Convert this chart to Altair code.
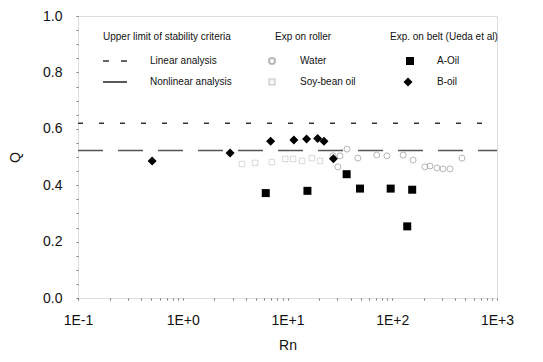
import altair as alt
import pandas as pd

# ---- data ----
b_rn = [0.51, 2.83, 6.9, 11.5, 15.2, 19.4, 22.3, 27.4]
b_q = [0.486, 0.514, 0.556, 0.560, 0.564, 0.566, 0.556, 0.494]

a_rn = [6.2, 15.5, 36.7, 49.2, 96.6, 155, 139]
a_q = [0.372, 0.380, 0.439, 0.388, 0.388, 0.384, 0.254]

water_rn = [27.2, 30.3, 31.7, 37, 47, 71, 89, 127, 158, 205, 229, 267, 305, 356, 463]
water_q = [0.504, 0.465, 0.504, 0.528, 0.496, 0.507, 0.504, 0.507, 0.489, 0.465,
           0.468, 0.461, 0.458, 0.458, 0.496]

soy_rn = [3.68, 4.9, 7.1, 9.5, 11.3, 13.8, 17.1, 20.4]
soy_q = [0.475, 0.479, 0.482, 0.493, 0.493, 0.486, 0.496, 0.486]

line_rn = [0.1, 1000]
linear_q = [0.620, 0.620]
nonlinear_q = [0.523, 0.523]

x_ticks = [m * d for d in [0.1, 1, 10, 100] for m in range(1, 10)] + [1000]
y_ticks = [round(i * 0.05, 2) for i in range(21)]

FONT = "Liberation Sans"

xs = alt.Scale(type="log", domain=[0.1, 1000], nice=False)
ys = alt.Scale(domain=[0, 1], nice=False)

x_enc = alt.X(
    "Rn:Q", scale=xs, title="Rn",
    axis=alt.Axis(
        values=x_ticks,
        labelExpr="abs(log(datum.value)/LN10 - round(log(datum.value)/LN10)) < 1e-6 ? ('1E' + (datum.value >= 1 ? '+' : '-') + abs(round(log(datum.value)/LN10))) : ''",
        domain=False, grid=False, tickSize=2, tickColor="#777",
        labelFont=FONT, labelFontSize=14, labelColor="#111", labelPadding=13,
        labelOverlap=False, labelFlush=False,
        titleFont=FONT, titleFontSize=14, titleFontWeight="normal", titleColor="#111",
        titlePadding=11,
    ),
)
y_enc = alt.Y(
    "Q:Q", scale=ys, title="Q",
    axis=alt.Axis(
        values=y_ticks,
        labelExpr="abs(datum.value*5 - round(datum.value*5)) < 1e-6 ? format(datum.value, '.1f') : ''",
        domain=False, grid=False, tickSize=2, tickColor="#777",
        labelFont=FONT, labelFontSize=14, labelColor="#111", labelPadding=14,
        labelOverlap=False,
        titleFont=FONT, titleFontSize=14, titleFontWeight="normal", titleColor="#111",
        titlePadding=20,
    ),
)

lin_df = pd.DataFrame({"Rn": line_rn, "Q": linear_q})
non_df = pd.DataFrame({"Rn": line_rn, "Q": nonlinear_q})
linear = alt.Chart(lin_df).mark_line(color="#333", strokeWidth=1.5, strokeDash=[5, 16]).encode(
    x=x_enc, y=y_enc)
nonlinear = alt.Chart(non_df).mark_line(color="#555", strokeWidth=1.5, strokeDash=[25, 15]).encode(
    x=x_enc, y=y_enc)

water = alt.Chart(pd.DataFrame({"Rn": water_rn, "Q": water_q})).mark_point(
    shape="circle", filled=False, color="#999", size=36, strokeWidth=1).encode(x=x_enc, y=y_enc)
soy = alt.Chart(pd.DataFrame({"Rn": soy_rn, "Q": soy_q})).mark_point(
    shape="square", filled=False, color="#c8c8c8", size=30, strokeWidth=1).encode(x=x_enc, y=y_enc)
aoil = alt.Chart(pd.DataFrame({"Rn": a_rn, "Q": a_q})).mark_point(
    shape="square", filled=True, color="#000", size=64, opacity=1).encode(x=x_enc, y=y_enc)
boil = alt.Chart(pd.DataFrame({"Rn": b_rn, "Q": b_q})).mark_point(
    shape="diamond", filled=True, color="#000", size=81, opacity=1).encode(x=x_enc, y=y_enc)

# ---- hand-made legend (placed in plot-area pixels) ----
one = pd.DataFrame({"k": [0]})

def txt(s, x, y, size=10):
    return alt.Chart(one).mark_text(text=s, align="left", baseline="middle", font=FONT,
                                    fontSize=size, color="#111").encode(
        x=alt.value(x), y=alt.value(y))

legend = [
    txt("Upper limit of stability criteria", 25, 21),
    txt("Exp  on roller", 197, 21),
    txt("Exp. on belt (Ueda et al)", 312, 21),
    txt("Linear analysis", 72, 45),
    txt("Nonlinear analysis", 72, 66),
    txt("Water", 222, 45),
    txt("Soy-bean oil", 222, 66),
    txt("A-Oil", 359, 45),
    txt("B-oil", 359, 66),
    alt.Chart(one).mark_rule(color="#333", strokeWidth=1.5, strokeDash=[6, 12]).encode(
        x=alt.value(25), x2=alt.value(49), y=alt.value(45)),
    alt.Chart(one).mark_rule(color="#222", strokeWidth=1.5).encode(
        x=alt.value(25), x2=alt.value(49), y=alt.value(66)),
    alt.Chart(one).mark_point(shape="circle", filled=False, color="#999", size=36).encode(
        x=alt.value(194), y=alt.value(45)),
    alt.Chart(one).mark_point(shape="square", filled=False, color="#c8c8c8", size=30).encode(
        x=alt.value(194), y=alt.value(66)),
    alt.Chart(one).mark_point(shape="square", filled=True, color="#000", size=64, opacity=1).encode(
        x=alt.value(332), y=alt.value(45)),
    alt.Chart(one).mark_point(shape="diamond", filled=True, color="#000", size=81, opacity=1).encode(
        x=alt.value(330), y=alt.value(66)),
]

chart = alt.layer(linear, nonlinear, soy, water, aoil, boil, *legend).properties(
    width=419, height=282,
    autosize=alt.AutoSizeParams(type="none"),
    padding={"left": 70, "top": 8, "right": 30, "bottom": 56},
).configure_view(stroke=None).configure(background="white")

chart.save("out.html", embed_options={"renderer": "svg", "actions": False})
